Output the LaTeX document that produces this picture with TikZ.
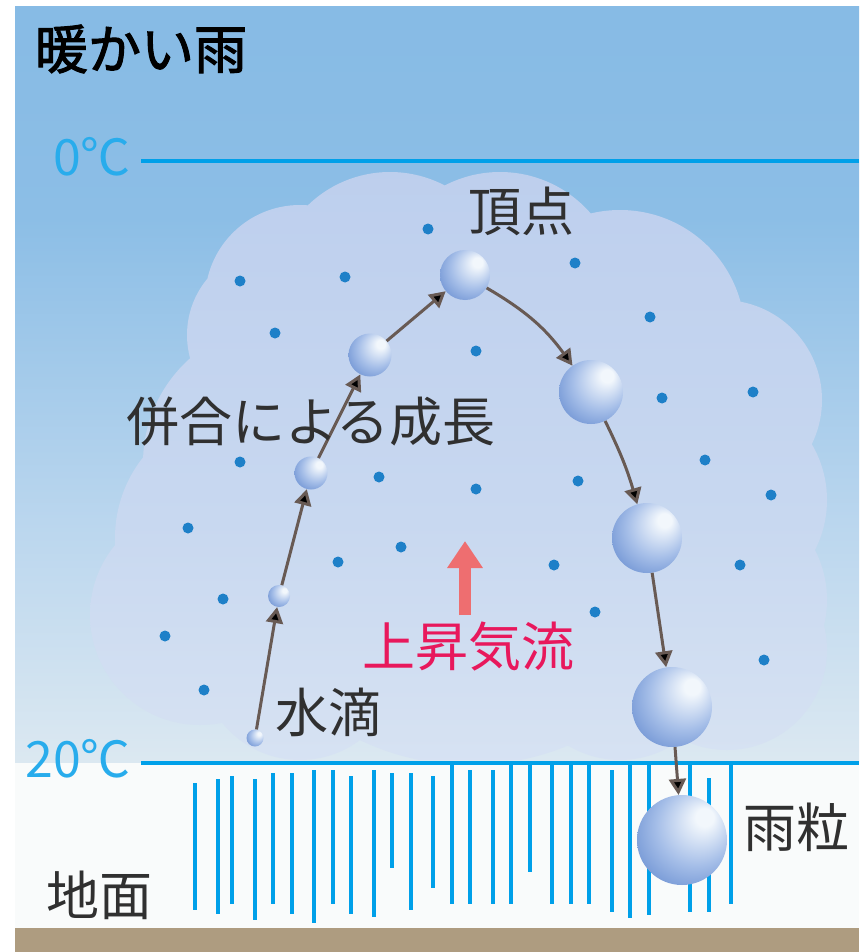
\documentclass[tikz,border=0pt]{standalone}
\usepackage{fontspec}
\newfontfamily\jp{Noto Sans CJK JP}[AutoFakeBold=2]
\usetikzlibrary{arrows.meta}

\definecolor{skytop}{RGB}{126,181,226}
\definecolor{skyhigh}{RGB}{140,190,230}
\definecolor{skymid}{RGB}{186,214,238}
\definecolor{skylow}{RGB}{228,237,242}
\definecolor{skyfoot}{RGB}{243,247,248}
\definecolor{cloudtop}{RGB}{180,199,235}
\definecolor{cloudmid}{RGB}{200,216,240}
\definecolor{cloudlow}{RGB}{233,239,246}
\definecolor{groundwhite}{RGB}{249,251,251}
\definecolor{soil}{RGB}{174,156,128}
\definecolor{linecyan}{RGB}{0,160,233}
\definecolor{tempcyan}{RGB}{40,172,236}
\definecolor{dotblue}{RGB}{30,128,200}
\definecolor{arrowgray}{RGB}{104,90,84}
\definecolor{dropedge}{RGB}{92,132,204}
\definecolor{dropmid}{RGB}{165,190,232}
\definecolor{dropshine}{RGB}{242,247,252}
\definecolor{upred}{RGB}{238,110,112}
\definecolor{uptext}{RGB}{232,24,92}
\definecolor{labelgray}{RGB}{48,48,48}

\pgfdeclareverticalshading{sky}{100bp}{color(0bp)=(skyfoot); color(8bp)=(skyfoot); color(21bp)=(skylow); color(41bp)=(skymid); color(61bp)=(skyhigh); color(100bp)=(skytop)}
\pgfdeclareverticalshading{cloud}{100bp}{color(0bp)=(cloudlow); color(45bp)=(cloudmid); color(100bp)=(cloudtop)}
\pgfdeclareradialshading{drop}{\pgfpoint{14bp}{14bp}}{color(0bp)=(dropshine); color(5bp)=(dropshine); color(22bp)=(dropmid); color(40bp)=(dropedge); color(50bp)=(dropedge)}

\begin{document}
\begin{tikzpicture}[x=1pt, y=-1pt,
    droplet/.style={circle, inner sep=0pt, shading=drop},
    droparrow/.style={draw=arrowgray, line width=3pt, -{Triangle[width=17pt,length=16pt]}},
    jlabel/.style={font=\jp\fontsize{53pt}{60pt}\selectfont, text=labelgray, inner sep=0pt},
    templabel/.style={font=\jp\fontsize{50pt}{56pt}\selectfont, text=tempcyan, inner sep=0pt},
    rain/.style={draw=linecyan, line width=3.2pt}]
    \useasboundingbox (0,0) rectangle (864,952);
    \fill[white] (0,0) rectangle (864,952);
    \shade[shading=sky] (15,7) rectangle (859,763);
    \fill[groundwhite] (15,763) rectangle (859,928);
    \fill[soil] (15,928) rectangle (859,952);

    % cloud: union of circles, shaded from top to bottom
    \begin{scope}
        \clip (15,7) rectangle (859,759);
        \clip foreach \cx/\cy/\r in {275/335/88, 300/300/95, 390/290/118, 500/292/120,
            620/335/125, 722/400/100, 717/500/110, 717/600/110, 727/650/100,
            283/463/140, 245/538/130, 200/615/110, 470/510/255, 300/660/100, 620/660/100}
            {(\cx,\cy) circle[radius=\r pt]};
        \shade[shading=cloud] (80,165) rectangle (840,760);
    \end{scope}

    % temperature levels
    \draw[linecyan, line width=4pt] (141,161) -- (859,161);
    \draw[linecyan, line width=3.5pt] (141,763) -- (859,763);
    \node(t0) [templabel] at (92,157) {0℃};
    \node(t20) [templabel] at (78,759) {20℃};

    % rain below the cloud base
    \foreach \x/\t/\b in {195/783/910, 218/779/914, 232/776/904, 255/779/920, 273/773/904,
        292/773/914, 314/770/923, 333/770/904, 351/776/914, 374/770/917, 392/773/868,
        411/773/910, 433/776/888, 452/765/904, 470/770/904, 493/770/904, 511/765/904,
        530/765/872, 552/765/904, 571/765/904, 589/765/904, 612/770/912, 630/765/918,
        649/765/915, 690/765/912, 709/778/912, 731/765/904}
        \draw[rain] (\x,\t) -- (\x,\b);

    % small cloud droplets
    \foreach \x/\y in {428/229, 575/263, 240/281, 345/277, 650/317, 275/333, 476/351,
        662/398, 753/392, 240/462, 379/477, 705/460, 476/489, 578/481, 771/495, 188/528,
        401/547, 338/562, 554/565, 740/565, 223/599, 595/612, 165/636, 204/690, 764/660}
        \fill[dotblue] (\x,\y) circle[radius=5.5pt];

    % updraft
    \coordinate (up1) at (465,615);
    \coordinate (up2) at (465,541);
    \draw[upred, line width=12pt, -{Triangle[width=34pt,length=27pt]}] (up1) -- (up2);

    \node(d1) [droplet, minimum size=17pt] at (255,738) {};
    \node(d2) [droplet, minimum size=22pt] at (279,596) {};
    \node(d3) [droplet, minimum size=33pt] at (311,473) {};
    \node(d4) [droplet, minimum size=43pt] at (370,355) {};
    \node(d5) [droplet, minimum size=50pt] at (465,275) {};
    \node(d6) [droplet, minimum size=64pt] at (591,392) {};
    \node(d7) [droplet, minimum size=70pt] at (647,538) {};
    \node(d8) [droplet, minimum size=80pt] at (672,707) {};
    \node(d9) [droplet, minimum size=90pt] at (682,840) {};

    \draw[droparrow]
    (d1) edge (d2)
    (d2) edge (d3)
    (d3) edge (d4)
    (d4) edge (d5)
    (d5) edge [bend left=12] (d6)
    (d6) edge [bend left=5] (d7)
    (d7) edge (d8)
    (d8) edge (d9);

    \node(title) [jlabel, text=black, font=\jp\bfseries\fontsize{53pt}{60pt}\selectfont] at (141,49) {暖かい雨};
    \node(peak) [jlabel] at (521,211) {頂点};
    \node(growth) [jlabel] at (311,422) {併合による成長};
    \node(water) [jlabel] at (328,712) {水滴};
    \node(raindrop) [jlabel] at (796,827) {雨粒};
    \node(ground) [jlabel] at (99,895) {地面};
    \node(updraft) [jlabel, text=uptext] at (468,647) {上昇気流};
\end{tikzpicture}
\end{document}
